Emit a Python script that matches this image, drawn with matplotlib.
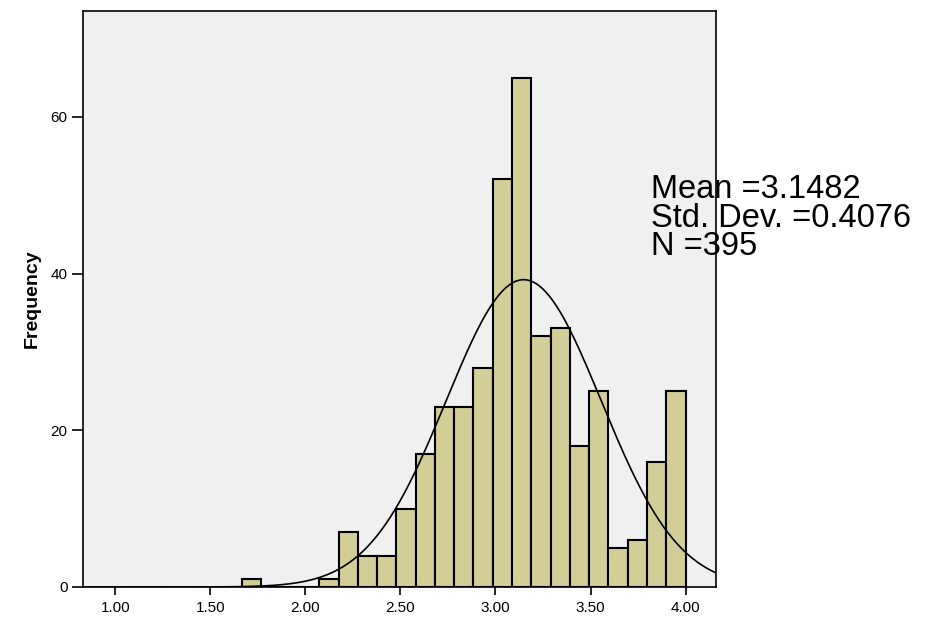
import matplotlib.pyplot as plt
import numpy as np

# Datos del histograma
conteos = [1, 0, 0, 0, 1, 7, 4, 4, 10, 17, 23, 23, 28, 52, 65, 32, 33, 18, 25, 5, 6, 16, 25]
x_min, x_max = 1.667, 4.0
media = 3.1482
desv = 0.4076
n_total = 395

x_ticks = [1.0, 1.5, 2.0, 2.5, 3.0, 3.5, 4.0]
x_tick_labels = ["1.00", "1.50", "2.00", "2.50", "3.00", "3.50", "4.00"]
y_ticks = [0, 20, 40, 60]
lineas_texto = ["Mean =3.1482", "Std. Dev. =0.4076", "N =395"]

plt.rcParams['font.family'] = ['Liberation Sans', 'DejaVu Sans']

fig = plt.figure(figsize=(9.35, 6.21), dpi=100)
ax = fig.add_axes([83 / 935, 1 - 587 / 621, (716 - 83) / 935, (587 - 11) / 621])
ax.set_facecolor('#F0F0F0')

# Barras
ancho = (x_max - x_min) / len(conteos)
bordes = x_min + ancho * np.arange(len(conteos))
ax.bar(bordes, conteos, width=ancho, align='edge', color='#D3CE97',
       edgecolor='black', linewidth=1.5, zorder=2)

# Curva normal
xs = np.linspace(0.83, 4.16, 400)
ys = n_total * ancho * np.exp(-0.5 * ((xs - media) / desv) ** 2) / (desv * np.sqrt(2 * np.pi))
ax.plot(xs, ys, color='black', linewidth=1.2, zorder=3)

ax.set_xlim(0.83, 4.16)
ax.set_ylim(0, 73.5)
ax.set_xticks(x_ticks)
ax.set_xticklabels(x_tick_labels)
ax.set_yticks(y_ticks)

ax.tick_params(axis='x', direction='out', length=6, width=1.2, labelsize=11, pad=4)
ax.tick_params(axis='y', direction='out', length=8, width=1.2, labelsize=11, pad=3)
for s in ax.spines.values():
    s.set_linewidth(1.2)

ax.set_ylabel('Frequency', fontsize=14, fontweight='bold', labelpad=7)

# Estadísticos
y_base = [49.6, 46.0, 42.4]
for texto, yb in zip(lineas_texto, y_base):
    ax.text(3.82, yb, texto, fontsize=23.5, va='baseline', ha='left',
            clip_on=False, zorder=4)

plt.savefig('out.png', dpi=100)
